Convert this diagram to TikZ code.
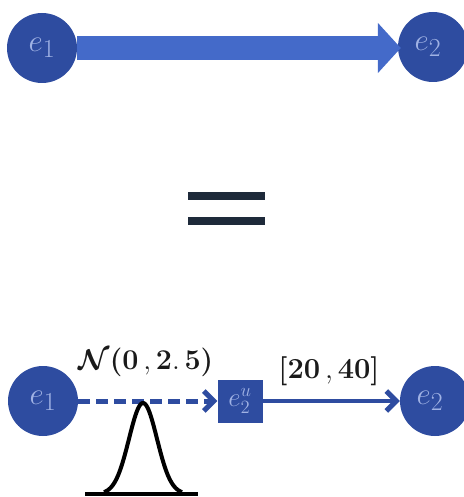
\documentclass[tikz,border=0pt]{standalone}
\usepackage{amsmath,amssymb}
\usepackage{bm}
\usepackage{graphicx}
\usetikzlibrary{arrows.meta}
\definecolor{nodeblue}{HTML}{2E4CA0}
\definecolor{arrowblue}{HTML}{446AC9}
\definecolor{lblblue}{HTML}{A0B2E4}
\definecolor{eqdark}{HTML}{1E2A3A}
\definecolor{txtdark}{HTML}{1A1A1A}
\newcommand{\normlabel}{\scalebox{1.38}{$\bm{\mathcal{N}}\bm{(}\mathbf{0}\,,\mathbf{2.\,5}\bm{)}$}}
\newcommand{\intlabel}{\scalebox{1.4}{$\bm{[}\mathbf{20}\,,\mathbf{40}\bm{]}$}}
\newcommand{\evtext}[1]{\scalebox{1.25}{$#1$}}
\tikzset{
  ev/.style={circle, fill=nodeblue, minimum size=70pt, inner sep=0pt, text=lblblue, font=\fontsize{24.88}{24.88}\selectfont},
  evbox/.style={rectangle, fill=nodeblue, minimum width=45pt, minimum height=43pt, inner sep=0pt, text=lblblue, font=\fontsize{20.74}{20.74}\selectfont},
  lbl/.style={text=txtdark, font=\fontsize{20.74}{20.74}\selectfont, inner sep=0pt},
  chev/.style={-{Straight Barb[length=10pt,width=20pt,line width=5pt]}},
}
\begin{document}
\begin{tikzpicture}[x=1pt,y=-1pt]
\useasboundingbox (0,0) rectangle (463,497);
% top row
\node[ev] (t1) at (42,48) {\evtext{e_1}};
\node[ev] (t2) at (433,47) {\hspace*{-10pt}\evtext{e_2}};
\draw[arrowblue, line width=24pt, -{Triangle[length=23pt,width=49pt]}] (t1.east) -- ([xshift=3pt]t2.west |- t1.east);
% equals
\fill[eqdark] (188,192) rectangle (265,200);
\fill[eqdark] (188,217) rectangle (265,225);
% bottom row
\node[ev] (b1) at (43,401) {\evtext{e_1}};
\node[ev] (b2) at (435,401) {\hspace*{-10pt}\evtext{e_2}};
\node[evbox] (u) at (240,401) {\scalebox{1.3}{$e_2^u$}};
\draw[nodeblue, line width=5pt, dash pattern=on 12pt off 6pt, chev] (b1.east) -- (u.west);
\draw[nodeblue, line width=4pt, chev] (u.east) -- (b2.west);
\node[lbl] (nlab) at (146,362) {\normlabel};
\node[lbl] (ilab) at (329,371) {\intlabel};
% gaussian
\draw[black, line width=4pt] (85,494) -- (198,494);
\draw[black, line width=4pt, line join=round, domain=104:182, samples=80, smooth] plot (\x, {494-91*exp(-((\x-143)/14)^2/2)});
\end{tikzpicture}
\end{document}
